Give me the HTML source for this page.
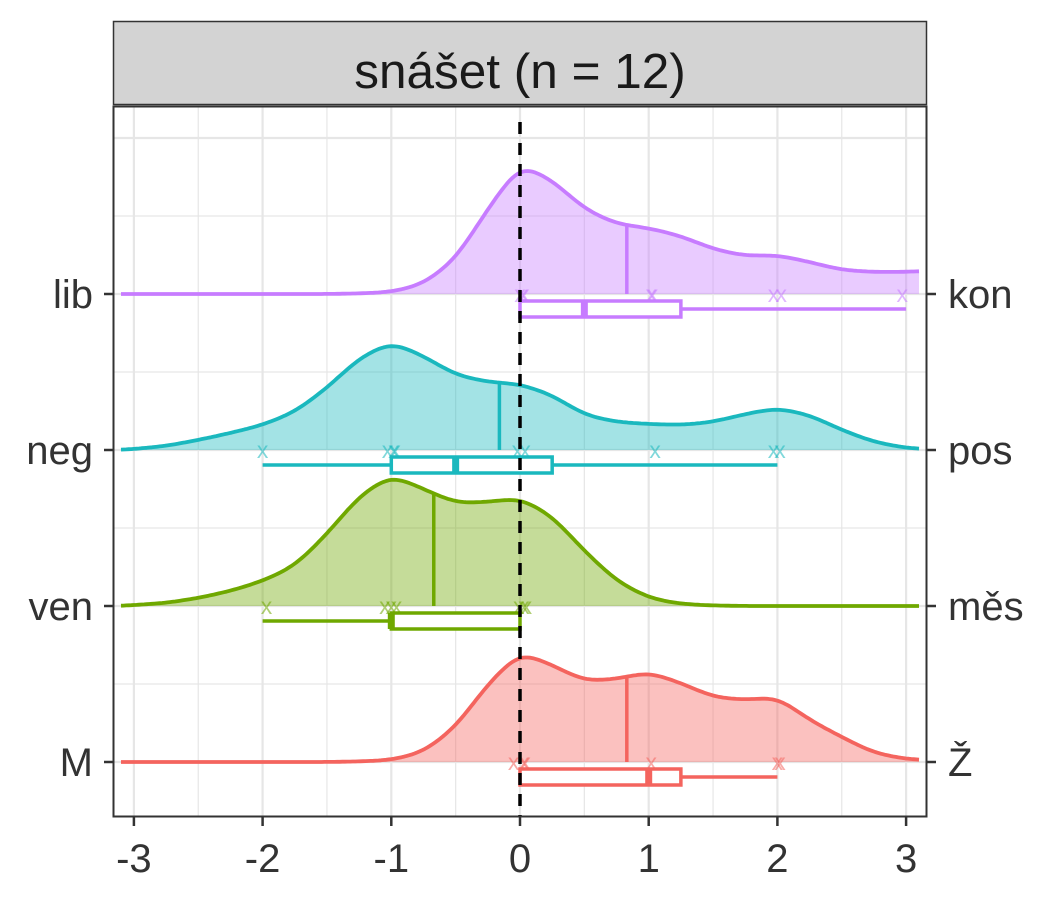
<!DOCTYPE html>
<html><head><meta charset="utf-8">
<style>
html,body{margin:0;padding:0;background:#fff;}
svg{display:block;font-family:"Liberation Sans",Arial,sans-serif;}
</style></head>
<body>
<svg id="chart" width="1050" height="900" viewBox="0 0 1050 900">
  <rect x="0" y="0" width="1050" height="900" fill="#fff"/>
  <rect x="113.5" y="21.5" width="813" height="83" fill="#d3d3d3" stroke="#333" stroke-width="1.5"/>
  <text x="520" y="88" font-size="49.5" text-anchor="middle" fill="#1a1a1a">snášet (n = 12)</text>
  <g id="grid"></g>
  <g id="series"></g>
  <line x1="520" y1="122" x2="520" y2="817" stroke="#000" stroke-width="3.5" stroke-dasharray="12,9"/>
  <rect x="113.5" y="106.5" width="813" height="710" fill="none" stroke="#333" stroke-width="2"/>
  <g id="axes"></g>
</svg>
<script>
const xTicks = [-3,-2,-1,0,1,2,3];
const leftLabels = ["lib","neg","ven","M"];
const rightLabels = ["kon","pos","měs","Ž"];
const colors = ["#C77CFF","#1AB8BE","#6FA800","#F4645E"];
const densX = [-3.1,-3,-2.75,-2.5,-2.25,-2,-1.75,-1.5,-1.25,-1,-0.75,-0.5,-0.25,0,0.25,0.5,0.75,1,1.25,1.5,1.75,2,2.25,2.5,2.75,3,3.1];
const densLib = [0,0,0,0,0,0,0,0,0.5,2,10,35,85,130,114,85,70,66,58,45,38,39,32,24,22,22,23];
const densNeg = [0,1,4,10,17,25,38,62,92,108,94,75,68,66,55,35,28,26,25,28,36,42,35,20,8,2,1];
const densVen = [0,1,3,8,15,25,40,72,110,131,117,103,104,108,90,55,25,8,2,0.5,0,0,0,0,0,0,0];
const densM = [0,0,0,0,0,0,0,0,0.5,2,10,35,78,110,97,81,83,90,79,65,62,65,42,25,9,3,2];
const means = [0.83,-0.16,-0.67,0.83];
const pointsLib = [0,0.02,0.03,1.02,1.03,1.97,2.03,2.97];
const pointsNeg = [-2,-1.03,-0.98,-0.97,-0.02,0.04,1.05,1.97,2.02];
const pointsVen = [-1.97,-1.05,-1.0,-0.96,-0.01,0.03,0.05];
const pointsM = [-0.05,0.03,0.04,1.02,2.0,2.02];
const boxLib = [0,0,0.5,1.25,3];
const boxNeg = [-2,-1,-0.5,0.25,2];
const boxVen = [-2,-1,-1,0,0];
const boxM = [0,0,1,1.25,2];

const dens=[densLib,densNeg,densVen,densM];
const pts=[pointsLib,pointsNeg,pointsVen,pointsM];
const boxes=[boxLib,boxNeg,boxVen,boxM];
const NS="http://www.w3.org/2000/svg";
const xs = v => 520 + v*128.7;
const base = i => 294 + i*156;
function mk(tag,attrs,parent){const e=document.createElementNS(NS,tag);for(const k in attrs)e.setAttribute(k,attrs[k]);parent.appendChild(e);return e;}
const grid=document.getElementById('grid'), ser=document.getElementById('series'), ax=document.getElementById('axes');

for(let v=-3;v<=3.01;v+=0.5){
  const g=mk('line',{x1:xs(v),x2:xs(v),y1:107,y2:816,stroke:'#e6e6e6','stroke-width':Number.isInteger(v)?2.2:1.2},grid);
  
  
}
for(let y=138;y<=762;y+=78){
  const g=mk('line',{x1:114,x2:926,y1:y,y2:y,stroke:'#e6e6e6','stroke-width':((y-138)%156===0)?2.2:1.2},grid);
  
  
}

function interp(arr,v){
  if(v<=densX[0])return arr[0];
  for(let i=0;i<densX.length-1;i++){if(v>=densX[i]&&v<=densX[i+1]){const t=(v-densX[i])/(densX[i+1]-densX[i]);return arr[i]+(arr[i+1]-arr[i])*t;}}
  return arr[arr.length-1];
}
function smoothVals(arr){
  const step=0.02, out=[];
  for(let x=-3.1;x<=3.1001;x+=step){
    let s=0,w=0;
    for(let k=-12;k<=12;k++){const xx=Math.min(3.1,Math.max(-3.1,x+k*step));const ww=Math.exp(-0.5*Math.pow(k*step/0.09,2));s+=ww*interp(arr,xx);w+=ww;}
    out.push([x,s/w]);
  }
  return out;
}
const names=['lib','neg','ven','m'];
for(let i=0;i<4;i++){
  const b=base(i), c=colors[i];
  const sv=smoothVals(dens[i]);
  const line='M'+sv.map(p=>`${xs(p[0]).toFixed(1)},${(b-p[1]).toFixed(1)}`).join(' L');
  const area=mk('path',{d:line+` L${xs(3.1)},${b} L${xs(-3.1)},${b} Z`,fill:c,'fill-opacity':0.4,stroke:'none'},ser);
  
  
  let mh=0;sv.forEach(p=>{if(Math.abs(p[0]-means[i])<0.011)mh=p[1];});
  const ml=mk('line',{x1:xs(means[i]),x2:xs(means[i]),y1:b,y2:b-mh,stroke:c,'stroke-width':3.5},ser);
  
  
  const ln=mk('path',{d:line,fill:'none',stroke:c,'stroke-width':3.8,'stroke-linejoin':'round'},ser);
  
  
  pts[i].forEach(v=>{
    const t=mk('text',{x:xs(v),y:b+8,'font-size':23,'text-anchor':'middle',fill:c,'fill-opacity':0.55},ser);
    t.textContent='x';
    
    
  });
  const bx=boxes[i], y0=b+7, y1=b+23, ym=b+15;
  const w1=mk('line',{x1:xs(bx[0]),x2:xs(bx[1]),y1:ym,y2:ym,stroke:c,'stroke-width':3.5},ser);
  
  
  const w2=mk('line',{x1:xs(bx[3]),x2:xs(bx[4]),y1:ym,y2:ym,stroke:c,'stroke-width':3.5},ser);
  
  
  const r=mk('rect',{x:xs(bx[1]),y:y0,width:xs(bx[3])-xs(bx[1]),height:y1-y0,fill:'#fff',stroke:c,'stroke-width':3.5},ser);
  
  
  const md=mk('line',{x1:xs(bx[2]),x2:xs(bx[2]),y1:y0,y2:y1,stroke:c,'stroke-width':7},ser);
  
  
  const tl=mk('line',{x1:104,x2:113,y1:b,y2:b,stroke:'#333','stroke-width':2.5},ax);
  
  
  const tr=mk('line',{x1:927,x2:936,y1:b,y2:b,stroke:'#333','stroke-width':2.5},ax);
  
  
  const ll=mk('text',{x:93,y:b+14,'font-size':40,'text-anchor':'end',fill:'#333'},ax);
  ll.textContent=leftLabels[i];
  
  
  const rl=mk('text',{x:948,y:b+14,'font-size':40,'text-anchor':'start',fill:'#333'},ax);
  rl.textContent=rightLabels[i];
  
  
}
xTicks.forEach(v=>{
  const t=mk('line',{x1:xs(v),x2:xs(v),y1:817,y2:826,stroke:'#333','stroke-width':2.5},ax);
  
  
  const l=mk('text',{x:xs(v),y:872,'font-size':40,'text-anchor':'middle',fill:'#333'},ax);
  l.textContent=v;
  
  
});
</script>
</body></html>
